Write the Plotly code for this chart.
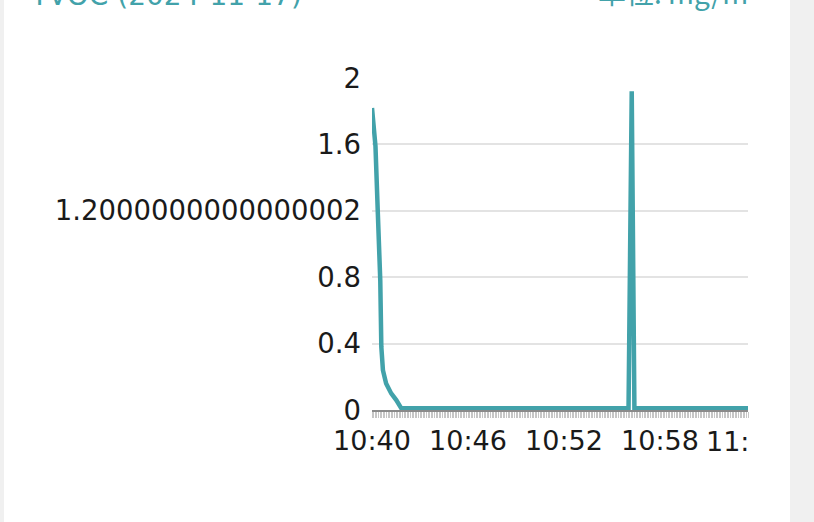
import plotly.graph_objects as go

# ---- data ----
times = [
    "2024-11-17 10:40:00", "2024-11-17 10:40:13", "2024-11-17 10:40:22",
    "2024-11-17 10:40:31", "2024-11-17 10:40:35", "2024-11-17 10:40:41",
    "2024-11-17 10:40:53", "2024-11-17 10:41:12", "2024-11-17 10:41:31",
    "2024-11-17 10:41:50", "2024-11-17 10:50:00", "2024-11-17 10:56:02",
    "2024-11-17 10:56:14", "2024-11-17 10:56:24", "2024-11-17 11:00:00",
    "2024-11-17 11:03:30",
]
tvoc = [1.82, 1.59, 1.18, 0.78, 0.38, 0.24, 0.16, 0.10, 0.06, 0.01,
        0.01, 0.01, 1.92, 0.01, 0.01, 0.01]

x_tickvals = ["2024-11-17 10:40:00", "2024-11-17 10:46:00",
              "2024-11-17 10:52:00", "2024-11-17 10:58:00"]
x_ticktext = ["10:40", "10:46", "10:52", "10:58"]
y_tickvals = [0, 0.4, 0.8, 1.2000000000000002, 1.6, 2]
y_ticktext = ["0", "0.4", "0.8", "1.2000000000000002", "1.6", "2"]

title_left = "TVOC (2024-11-17)"
title_right = "单位: mg/m³"

TEAL = "#42a2aa"
W, H = 814, 522
L, R, T, B = 372, 748, 78, 410  # plot area pixel box


def px(xp):
    return (xp - L) / (R - L)


def py(yp):
    return (B - yp) / (B - T)


FONT = "DejaVu Sans"

fig = go.Figure()
fig.add_trace(go.Scatter(
    x=times, y=tvoc, mode="lines",
    line=dict(color=TEAL, width=4.5), hoverinfo="skip", showlegend=False,
))

fig.update_layout(
    width=W, height=H,
    margin=dict(l=L, r=W - R, t=T, b=H - B),
    paper_bgcolor="#f0f0f0",
    plot_bgcolor="white",
    font=dict(family=FONT, size=27.5, color="#1a1a1a"),
    xaxis=dict(
        type="date",
        range=["2024-11-17 10:40:00", "2024-11-17 11:03:30"],
        tickvals=x_tickvals, ticktext=x_ticktext,
        ticks="", showgrid=False,
        showline=True, linecolor="#8a8a8a", linewidth=2,
        ticklabelstandoff=6,
        tickfont=dict(size=27),
        minor=dict(ticks="outside", ticklen=6, tickwidth=1,
                   tickcolor="#c6c6c6", dtick=6000,
                   tick0="2024-11-17 10:40:00", showgrid=False),
        zeroline=False, fixedrange=True,
    ),
    yaxis=dict(
        range=[0, 2],
        tickvals=y_tickvals, ticktext=y_ticktext,
        showgrid=True, gridcolor="#e3e3e3", gridwidth=2,
        ticks="", ticklabelstandoff=10,
        zeroline=False, showline=False, fixedrange=True,
    ),
    shapes=[dict(
        type="rect", xref="paper", yref="paper", layer="below",
        x0=px(4), x1=px(790), y0=py(H + 5), y1=py(-20),
        fillcolor="white", line=dict(width=0),
    )],
    annotations=[
        dict(text=title_left, xref="paper", yref="paper",
             x=px(28), y=py(14), xanchor="left", yanchor="bottom",
             showarrow=False, font=dict(family=FONT, size=28, color=TEAL)),
        dict(text=title_right, xref="paper", yref="paper",
             x=px(762), y=py(14), xanchor="right", yanchor="bottom",
             showarrow=False,
             font=dict(family="Noto Sans CJK SC", size=28, color=TEAL)),
        dict(text="11:", xref="paper", yref="paper",
             x=px(704), y=py(441), xanchor="left", yanchor="middle",
             showarrow=False, font=dict(family=FONT, size=27, color="#1a1a1a")),
    ],
)

fig.write_html(
    "out.html",
    config={"displayModeBar": False},
    post_script="document.body.style.margin='0';document.body.style.padding='0';"
                "document.documentElement.style.overflow='hidden';",
)
